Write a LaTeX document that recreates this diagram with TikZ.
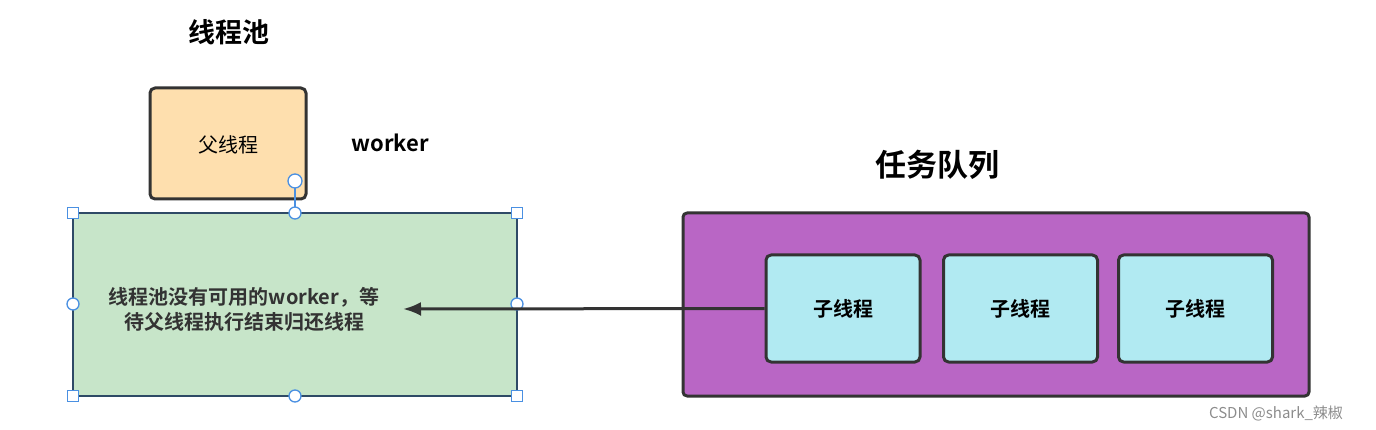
\documentclass[tikz,border=0pt]{standalone}
\usepackage{fontspec}
\setmainfont{Noto Sans CJK SC}[BoldFont={Noto Sans CJK SC Bold}]
\usetikzlibrary{arrows.meta}

\definecolor{darkline}{HTML}{333333}
\definecolor{parentfill}{HTML}{FEDFAE}
\definecolor{poolfill}{HTML}{C7E5C9}
\definecolor{poolline}{HTML}{2E4A66}
\definecolor{queuefill}{HTML}{B966C5}
\definecolor{childfill}{HTML}{B1EAF2}
\definecolor{handle}{HTML}{4A90E2}

\tikzset{
  box/.style={draw=darkline, line width=3pt, rounded corners=5pt, line join=round},
  childbox/.style={box, fill=childfill, minimum width=154pt, minimum height=107pt,
    font=\fontsize{20}{24}\selectfont\bfseries},
  sqhandle/.style={draw=handle, fill=white, line width=1.3pt, minimum size=11pt,
    inner sep=0pt, rectangle},
  cirhandle/.style={draw=handle, fill=white, line width=1.3pt, minimum size=12pt,
    inner sep=0pt, circle},
}

\begin{document}
\begin{tikzpicture}[x=1pt,y=-1pt,>=Latex]
  \useasboundingbox (0,0) rectangle (1376,430);

  % thread pool
  \node at (229,32) {\fontsize{27}{27}\selectfont\bfseries 线程池};
  \draw[box, fill=parentfill] (150,88) rectangle (306,199);
  \node (parent) at (228,145) {\fontsize{20}{20}\selectfont 父线程};
  \node (worker) at (390,143) {\fontsize{22}{22}\selectfont\bfseries worker};

  \draw[fill=poolfill, draw=poolline, line width=2.8pt] (73,213) rectangle (517,396);
  \node[align=center, font=\fontsize{20}{25}\selectfont\bfseries, text=darkline] (msg) at (244,309)
    {线程池没有可用的worker，等\\待父线程执行结束归还线程};

  % selection handles
  \coordinate (rot) at (295,181);
  \coordinate (top) at (295,213);
  \draw[handle, line width=1.5pt] (rot) -- (top);
  \node[cirhandle, minimum size=14pt] at (rot) {};
  \foreach \p in {(73,213),(517,213),(73,396),(517,396)}
    \node[sqhandle] at \p {};
  \foreach \p in {(295,213),(517,304),(73,304),(295,396)}
    \node[cirhandle] at \p {};

  % task queue
  \node at (937,165) {\fontsize{31}{31}\selectfont\bfseries 任务队列};
  \draw[box, fill=queuefill, rounded corners=4pt] (683,213) rectangle (1309,396);
  \node[childbox] (c1) at (843,308.5) {子线程};
  \node[childbox] (c2) at (1020.5,308.5) {子线程};
  \node[childbox] (c3) at (1195.5,308.5) {子线程};

  \coordinate (tip) at (403,309);
  \draw[darkline, line width=3pt, -{Latex[length=18pt,width=14pt]}]
    (c1.west) -- (tip);

  \node[text=black!45] (mark) at (1276,413) {\fontsize{15}{15}\selectfont CSDN @shark\_辣椒};
\end{tikzpicture}
\end{document}
